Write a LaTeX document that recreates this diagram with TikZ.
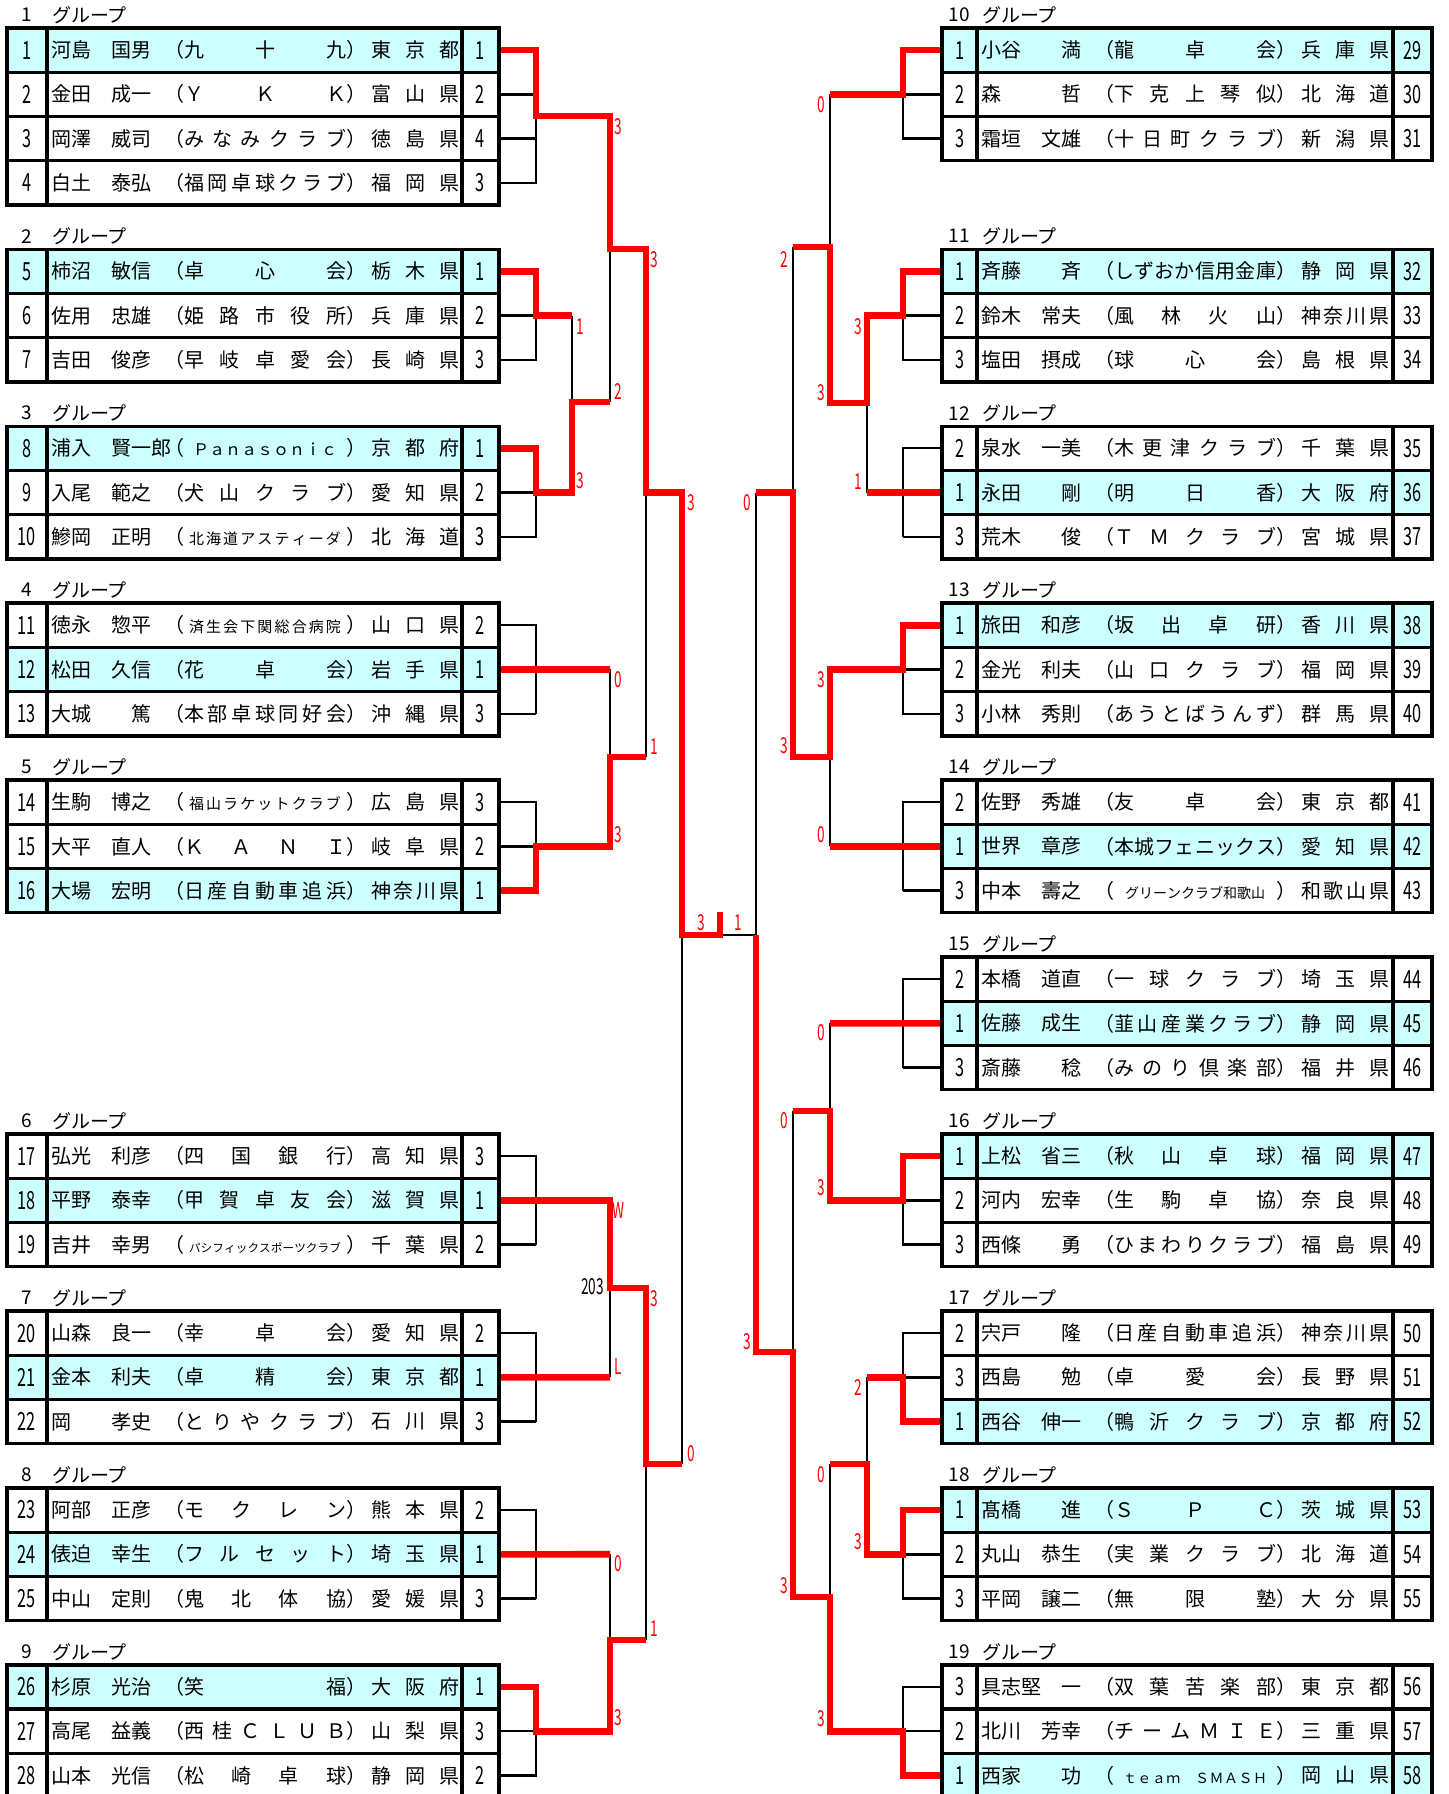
\documentclass[tikz,border=0pt]{standalone}
\usepackage{fontspec}
\setmainfont{Noto Sans CJK JP}
\usepackage{graphicx}
\definecolor{hlc}{HTML}{CCFFFF}
\definecolor{rdc}{HTML}{FF0000}
\makeatletter
\newcommand\spread[2]{\hbox to #1{\let\sp@sep\relax\@tfor\sp@c:=#2\do{\sp@sep\sp@c\let\sp@sep\hfil}}}
\makeatother
\newcommand\club[1]{（\spread{81pt}{#1}）}
\newcommand\clubs[3]{（\hbox to 81pt{\hss{\fontsize{#1}{#1}\selectfont\spread{#2}{#3}}\hss}）}
\newcommand\dg[1]{\scalebox{0.65}[1]{\fontsize{12.5pt}{13pt}\selectfont #1}}
\newcommand\ldg[1]{\scalebox{0.62}[1]{\fontsize{11pt}{11pt}\selectfont #1}}
\newcommand\setleft{\def\xA{7}\def\xB{47}\def\xC{462}\def\xD{499}\def\xE{499}}
\newcommand\setright{\def\xA{942}\def\xB{977}\def\xC{1393}\def\xD{1432}\def\xE{942}}
\newcommand\prow[8]{%
  \pgfmathsetmacro\yt{28+44.24*#1}%
  \pgfmathsetmacro\yb{\yt+44.24}%
  \pgfmathsetmacro\yc{\yt+22.12}%
  \ifnum#8=1 \fill[hlc] (\xA,\yt) rectangle (\xD,\yb);\fi
  \node (n#2) at ({(\xA+\xB)/2},\yc) {\dg{#3}};%
  \node[anchor=west] (nm#2) at (\xB+4.5,\yc) {#4};%
  \node[anchor=west] (cl#2) at (\xB+117,\yc) {#5};%
  \node[anchor=west] (pf#2) at (\xB+324,\yc) {\spread{44pt}{#6}};%
  \node (sc#2) at ({(\xC+\xD)/2},\yc) {\dg{#7}};%
  \coordinate (p#2) at (\xE,\yc);%
}
\newcommand\ptitle[2]{%
  \pgfmathsetmacro\yt{28+44.24*#1-13}%
  \node (tn#2) at ({(\xA+\xB)/2},\yt) {\fontsize{9.5pt}{10pt}\selectfont #2};%
  \node[anchor=west] (tg#2) at (\xB+5,\yt) {\fontsize{9.5pt}{10pt}\selectfont グループ};%
}
\newcommand\ptable[2]{%
  \pgfmathsetmacro\yt{28+44.24*#1}%
  \pgfmathsetmacro\yb{28+44.24*(#1+#2)}%
  \draw[tbl] (\xA,\yt) rectangle (\xD,\yb);%
  \draw[tbl] (\xB,\yt) -- (\xB,\yb) (\xC,\yt) -- (\xC,\yb);%
  \foreach \k in {1,...,#2}{\ifnum\k<#2 \pgfmathsetmacro\yk{28+44.24*(#1+\k)}\draw[tbl] (\xA,\yk) -- (\xD,\yk);\fi}%
}
\begin{document}
\begin{tikzpicture}[x=0.5pt,y=-0.5pt,
  every node/.style={inner sep=0pt,outer sep=0pt,font=\fontsize{10pt}{12pt}\selectfont},
  tbl/.style={line width=1.65pt,line join=miter},
  blk/.style={line width=1.2pt},
  rd/.style={draw=rdc,line width=3.3pt,line join=miter},
  lab/.style={text=rdc}]
\fill[white] (0,0) rectangle (1448,1794);
\useasboundingbox (0,0) rectangle (1448,1794);
% ---------------- left side
\setleft
\ptitle{0}{1}\ptitle{5}{2}\ptitle{9}{3}\ptitle{13}{4}\ptitle{17}{5}\ptitle{25}{6}\ptitle{29}{7}\ptitle{33}{8}\ptitle{37}{9}
\prow{0}{1}{1}{河島　国男}{\club{九十九}}{東京都}{1}{1}
\prow{1}{2}{2}{金田　成一}{\club{ＹＫＫ}}{富山県}{2}{0}
\prow{2}{3}{3}{岡澤　威司}{\club{みなみクラブ}}{徳島県}{4}{0}
\prow{3}{4}{4}{白土　泰弘}{\club{福岡卓球クラブ}}{福岡県}{3}{0}
\prow{5}{5}{5}{柿沼　敏信}{\club{卓心会}}{栃木県}{1}{1}
\prow{6}{6}{6}{佐用　忠雄}{\club{姫路市役所}}{兵庫県}{2}{0}
\prow{7}{7}{7}{吉田　俊彦}{\club{早岐卓愛会}}{長崎県}{3}{0}
\prow{9}{8}{8}{浦入　賢一郎}{\clubs{8pt}{72pt}{Ｐａｎａｓｏｎｉｃ}}{京都府}{1}{1}
\prow{10}{9}{9}{入尾　範之}{\club{犬山クラブ}}{愛知県}{2}{0}
\prow{11}{10}{10}{鰺岡　正明}{\clubs{7.5pt}{76pt}{北海道アスティーダ}}{北海道}{3}{0}
\prow{13}{11}{11}{徳永　惣平}{\clubs{7.5pt}{76pt}{済生会下関総合病院}}{山口県}{2}{0}
\prow{14}{12}{12}{松田　久信}{\club{花卓会}}{岩手県}{1}{1}
\prow{15}{13}{13}{大城　　篤}{\club{本部卓球同好会}}{沖縄県}{3}{0}
\prow{17}{14}{14}{生駒　博之}{\clubs{7.5pt}{76pt}{福山ラケットクラブ}}{広島県}{3}{0}
\prow{18}{15}{15}{大平　直人}{\club{ＫＡＮＩ}}{岐阜県}{2}{0}
\prow{19}{16}{16}{大場　宏明}{\club{日産自動車追浜}}{神奈川県}{1}{1}
\prow{25}{17}{17}{弘光　利彦}{\club{四国銀行}}{高知県}{3}{0}
\prow{26}{18}{18}{平野　泰幸}{\club{甲賀卓友会}}{滋賀県}{1}{1}
\prow{27}{19}{19}{吉井　幸男}{\clubs{5.8pt}{76pt}{パシフィックスポーツクラブ}}{千葉県}{2}{0}
\prow{29}{20}{20}{山森　良一}{\club{幸卓会}}{愛知県}{2}{0}
\prow{30}{21}{21}{金本　利夫}{\club{卓精会}}{東京都}{1}{1}
\prow{31}{22}{22}{岡　　孝史}{\club{とりやクラブ}}{石川県}{3}{0}
\prow{33}{23}{23}{阿部　正彦}{\club{モクレン}}{熊本県}{2}{0}
\prow{34}{24}{24}{俵迫　幸生}{\club{フルセット}}{埼玉県}{1}{1}
\prow{35}{25}{25}{中山　定則}{\club{鬼北体協}}{愛媛県}{3}{0}
\prow{37}{26}{26}{杉原　光治}{\club{笑福}}{大阪府}{1}{1}
\prow{38}{27}{27}{高尾　益義}{\club{西桂ＣＬＵＢ}}{山梨県}{3}{0}
\prow{39}{28}{28}{山本　光信}{\club{松崎卓球}}{静岡県}{2}{0}
% ---------------- right side
\setright
\ptitle{0}{10}\ptitle{5}{11}\ptitle{9}{12}\ptitle{13}{13}\ptitle{17}{14}\ptitle{21}{15}\ptitle{25}{16}\ptitle{29}{17}\ptitle{33}{18}\ptitle{37}{19}
\prow{0}{29}{1}{小谷　　満}{\club{龍卓会}}{兵庫県}{29}{1}
\prow{1}{30}{2}{森　　　哲}{\club{下克上琴似}}{北海道}{30}{0}
\prow{2}{31}{3}{霜垣　文雄}{\club{十日町クラブ}}{新潟県}{31}{0}
\prow{5}{32}{1}{斉藤　　斉}{\club{しずおか信用金庫}}{静岡県}{32}{1}
\prow{6}{33}{2}{鈴木　常夫}{\club{風林火山}}{神奈川県}{33}{0}
\prow{7}{34}{3}{塩田　摂成}{\club{球心会}}{島根県}{34}{0}
\prow{9}{35}{2}{泉水　一美}{\club{木更津クラブ}}{千葉県}{35}{0}
\prow{10}{36}{1}{永田　　剛}{\club{明日香}}{大阪府}{36}{1}
\prow{11}{37}{3}{荒木　　俊}{\club{ＴＭクラブ}}{宮城県}{37}{0}
\prow{13}{38}{1}{旅田　和彦}{\club{坂出卓研}}{香川県}{38}{1}
\prow{14}{39}{2}{金光　利夫}{\club{山口クラブ}}{福岡県}{39}{0}
\prow{15}{40}{3}{小林　秀則}{\club{あうとばうんず}}{群馬県}{40}{0}
\prow{17}{41}{2}{佐野　秀雄}{\club{友卓会}}{東京都}{41}{0}
\prow{18}{42}{1}{世界　章彦}{\club{本城フェニックス}}{愛知県}{42}{1}
\prow{19}{43}{3}{中本　壽之}{\clubs{7pt}{70pt}{グリーンクラブ和歌山}}{和歌山県}{43}{0}
\prow{21}{44}{2}{本橋　道直}{\club{一球クラブ}}{埼玉県}{44}{0}
\prow{22}{45}{1}{佐藤　成生}{\club{韮山産業クラブ}}{静岡県}{45}{1}
\prow{23}{46}{3}{斎藤　　稔}{\club{みのり倶楽部}}{福井県}{46}{0}
\prow{25}{47}{1}{上松　省三}{\club{秋山卓球}}{福岡県}{47}{1}
\prow{26}{48}{2}{河内　宏幸}{\club{生駒卓協}}{奈良県}{48}{0}
\prow{27}{49}{3}{西條　　勇}{\club{ひまわりクラブ}}{福島県}{49}{0}
\prow{29}{50}{2}{宍戸　　隆}{\club{日産自動車追浜}}{神奈川県}{50}{0}
\prow{30}{51}{3}{西島　　勉}{\club{卓愛会}}{長野県}{51}{0}
\prow{31}{52}{1}{西谷　伸一}{\club{鴨沂クラブ}}{京都府}{52}{1}
\prow{33}{53}{1}{髙橋　　進}{\club{ＳＰＣ}}{茨城県}{53}{1}
\prow{34}{54}{2}{丸山　恭生}{\club{実業クラブ}}{北海道}{54}{0}
\prow{35}{55}{3}{平岡　譲二}{\club{無限塾}}{大分県}{55}{0}
\prow{37}{56}{3}{具志堅　一}{\club{双葉苦楽部}}{東京都}{56}{0}
\prow{38}{57}{2}{北川　芳幸}{\club{チームＭＩＥ}}{三重県}{57}{0}
\prow{39}{58}{1}{西家　　功}{\clubs{7pt}{72pt}{ｔｅａｍ　ＳＭＡＳＨ}}{岡山県}{58}{1}
% ---------------- black bracket lines
\draw[blk] (p2) -- ++(37,0) (p3) -- ++(37,0) (p4) -| (536,116);
\draw[blk] (p6) -- ++(37,0) (p7) -| (536,315.56);
\draw[blk] (p9) -- ++(37,0) (p10) -| (536,492.52);
\draw[blk] (572,315.56) -- (572,402) (610,249) -- (610,402);
\draw[blk] (p11) -| (536,713.72) (p13) -- ++(37,0);
\draw[blk] (p14) -| (536,846.44) (p15) -- ++(37,0);
\draw[blk] (610,669.48) -- (610,757) (646,492.52) -- (646,757) (682,935) -- (682,1464);
\draw[blk] (p17) -| (536,1244.6) (p19) -- ++(37,0);
\draw[blk] (p20) -| (536,1421.56) (p22) -- ++(37,0);
\draw[blk] (610,1288) -- (610,1377.32);
\draw[blk] (p23) -| (536,1598.52) (p25) -- ++(37,0);
\draw[blk] (p27) -- ++(37,0) (p28) -| (536,1731.24);
\draw[blk] (610,1554.28) -- (610,1640) (646,1464) -- (646,1640);
\draw[blk] (720,935) -- (756,935);
\draw[blk] (p30) -- ++(-39,0) (p31) -| (903,94.36) (830,94.36) -- (830,247);
\draw[blk] (p33) -- ++(-39,0) (p34) -| (903,315.56);
\draw[blk] (p35) -| (903,536.76) (p37) -- ++(-39,0);
\draw[blk] (867,403) -- (867,492.52) (793,247) -- (793,492.52);
\draw[blk] (p39) -- ++(-39,0) (p40) -| (903,669.48);
\draw[blk] (p41) -| (903,890.68) (p43) -- ++(-39,0);
\draw[blk] (830,757) -- (830,846.44) (756,492.52) -- (756,935);
\draw[blk] (p44) -| (903,1067.64) (p46) -- ++(-39,0);
\draw[blk] (830,1023.4) -- (830,1111) (793,1111) -- (793,1352);
\draw[blk] (p48) -- ++(-39,0) (p49) -| (903,1200.36);
\draw[blk] (p50) -| (903,1377.32) (p51) -- ++(-39,0);
\draw[blk] (867,1377.32) -- (867,1464);
\draw[blk] (p54) -- ++(-39,0) (p55) -| (903,1554.28);
\draw[blk] (830,1464) -- (830,1597);
\draw[blk] (p56) -| (903,1731.24) (p57) -- ++(-39,0);
% ---------------- red winner lines
\draw[rd] (p1) -| (536,116) -| (610,249) -| (646,492.52) -| (682,935) -| (720,912);
\draw[rd] (p5) -| (536,315.56) -- (572,315.56);
\draw[rd] (p8) -| (536,492.52) -| (572,402) -- (610,402);
\draw[rd] (p12) -- (610,669.48);
\draw[rd] (p16) -| (536,846.44) -| (610,757) -- (646,757);
\draw[rd] (p18) -| (610,1288) -| (646,1464) -- (682,1464);
\draw[rd] (p21) -- (610,1377.32);
\draw[rd] (p24) -- (610,1554.28);
\draw[rd] (p26) -| (536,1731.24) -| (610,1640) -- (646,1640);
\draw[rd] (p29) -| (903,94.36) -- (830,94.36);
\draw[rd] (p32) -| (903,315.56) -| (867,403) -| (830,247) -- (793,247);
\draw[rd] (p36) -- (867,492.52);
\draw[rd] (p38) -| (903,669.48) -| (830,757) -| (793,492.52) -- (756,492.52);
\draw[rd] (p42) -- (830,846.44);
\draw[rd] (p45) -- (830,1023.4);
\draw[rd] (p47) -| (903,1200.36) -| (830,1111) -- (793,1111);
\draw[rd] (p52) -| (903,1377.32) -- (867,1377.32);
\draw[rd] (p53) -| (903,1554.28) -| (867,1464) -- (830,1464);
\draw[rd] (p58) -| (903,1731.24) -| (830,1597) -| (793,1352) -| (756,935);
% ---------------- match scores
\node[lab] (a1) at (618,127) {\ldg{3}};
\node[lab] (a2) at (618,392) {\ldg{2}};
\node[lab] (a3) at (580,327) {\ldg{1}};
\node[lab] (a4) at (580,481) {\ldg{3}};
\node[lab] (a5) at (654,260) {\ldg{3}};
\node[lab] (a6) at (654,747) {\ldg{1}};
\node[lab] (a7) at (618,680) {\ldg{0}};
\node[lab] (a8) at (618,835) {\ldg{3}};
\node[lab] (a9) at (691,503) {\ldg{3}};
\node[lab] (a10) at (691,1454) {\ldg{0}};
\node[lab] (a11) at (618,1210) {\ldg{W}};
\node[lab] (a12) at (618,1366) {\ldg{L}};
\node[anchor=east] (a13) at (604,1287) {\ldg{203}};
\node[lab] (a14) at (654,1299) {\ldg{3}};
\node[lab] (a15) at (654,1629) {\ldg{1}};
\node[lab] (a16) at (618,1564) {\ldg{0}};
\node[lab] (a17) at (618,1718) {\ldg{3}};
\node[lab] (a18) at (701,923) {\ldg{3}};
\node[lab] (a19) at (738,923) {\ldg{1}};
\node[lab] (b1) at (821,105) {\ldg{0}};
\node[lab] (b2) at (821,393) {\ldg{3}};
\node[lab] (b3) at (858,327) {\ldg{3}};
\node[lab] (b4) at (858,482) {\ldg{1}};
\node[lab] (b5) at (784,260) {\ldg{2}};
\node[lab] (b6) at (784,746) {\ldg{3}};
\node[lab] (b7) at (821,680) {\ldg{3}};
\node[lab] (b8) at (821,835) {\ldg{0}};
\node[lab] (b9) at (747,503) {\ldg{0}};
\node[lab] (b10) at (747,1342) {\ldg{3}};
\node[lab] (b11) at (821,1033) {\ldg{0}};
\node[lab] (b12) at (821,1188) {\ldg{3}};
\node[lab] (b13) at (784,1121) {\ldg{0}};
\node[lab] (b14) at (784,1586) {\ldg{3}};
\node[lab] (b15) at (858,1387) {\ldg{2}};
\node[lab] (b16) at (858,1542) {\ldg{3}};
\node[lab] (b17) at (821,1475) {\ldg{0}};
\node[lab] (b18) at (821,1719) {\ldg{3}};
% ---------------- table grids
\setleft
\ptable{0}{4}\ptable{5}{3}\ptable{9}{3}\ptable{13}{3}\ptable{17}{3}\ptable{25}{3}\ptable{29}{3}\ptable{33}{3}\ptable{37}{3}
\setright
\ptable{0}{3}\ptable{5}{3}\ptable{9}{3}\ptable{13}{3}\ptable{17}{3}\ptable{21}{3}\ptable{25}{3}\ptable{29}{3}\ptable{33}{3}\ptable{37}{3}
\end{tikzpicture}
\end{document}
